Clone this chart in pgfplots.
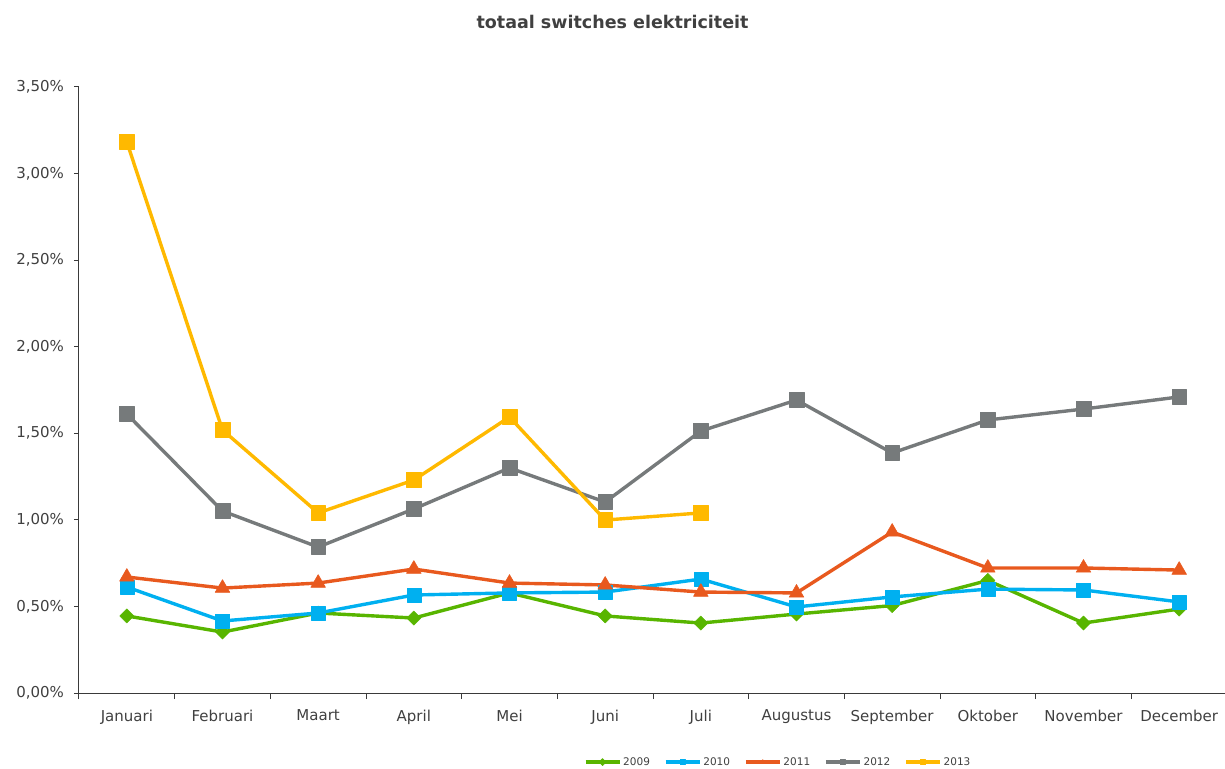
\documentclass[border=0pt]{standalone}
\usepackage{fontspec}
\setmainfont{DejaVu Sans}
\usepackage{pgfplots}
\pgfplotsset{compat=1.18}
\definecolor{c09}{HTML}{58B500}
\definecolor{c10}{HTML}{00B0F0}
\definecolor{c11}{HTML}{E8591E}
\definecolor{c12}{HTML}{767A7B}
\definecolor{c13}{HTML}{FFB900}
\definecolor{txt}{HTML}{404040}
\definecolor{axc}{HTML}{3A3A3A}
\begin{document}
\begin{tikzpicture}
\begin{axis}[name=ax,
  scale only axis, width=1148pt, height=606pt,
  xmin=-0.5, xmax=11.5, ymin=0, ymax=3.5,
  axis x line=bottom, axis y line=left,
  axis line style={-, draw=axc, line width=1pt},
  xtick={0,...,11},
  xticklabels={Januari,Februari,Maart,April,Mei,Juni,Juli,Augustus,September,Oktober,November,December},
  major x tick style={draw=none},
  minor xtick={-0.5,0.5,...,11.5},
  minor x tick style={draw=axc, line width=1pt},
  minor tick length=6pt,
  ytick={0,0.5,...,3.5},
  y tick style={draw=axc, line width=1pt},
  major tick length=5pt,
  tick align=outside,
  yticklabel={\pgfmathprintnumber[fixed,fixed zerofill,precision=2,use comma]{\tick}\%},
  /pgf/number format/assume math mode=true,
  ticklabel style={font=\fontsize{15}{18}\selectfont, text=txt},
  xticklabel style={yshift=-7pt},
  yticklabel style={xshift=-5pt},
  line width=3.4pt,
  every axis plot/.append style={line join=round},
  legend style={at={(0.609,-0.114)}, anchor=center, legend columns=5, draw=none,
    font=\fontsize{10.5}{12}\selectfont, text=txt,
    /tikz/every even column/.append style={column sep=12pt}},
  legend cell align=left,
  legend image code/.code={\draw[mark repeat=2,mark phase=2,#1,mark size=2.5pt] plot coordinates {(0pt,0pt)(17pt,0pt)(34pt,0pt)};},
]
\addplot[c09, mark=square*, mark size=5pt, mark options={rotate=45,fill=c09,draw=c09,line width=0.5pt}] coordinates {
(0,0.445)(1,0.352)(2,0.462)(3,0.433)(4,0.578)(5,0.445)(6,0.404)(7,0.456)(8,0.505)(9,0.650)(10,0.404)(11,0.485)};
\addlegendentry{2009}
\addplot[c10, mark=square*, mark size=7pt, mark options={fill=c10,draw=c10,line width=0.5pt}] coordinates {
(0,0.612)(1,0.416)(2,0.462)(3,0.566)(4,0.578)(5,0.583)(6,0.658)(7,0.497)(8,0.555)(9,0.600)(10,0.595)(11,0.526)};
\addlegendentry{2010}
\addplot[c11, mark=triangle*, mark size=8.5pt, mark options={fill=c11,draw=c11,line width=0.5pt}] coordinates {
(0,0.670)(1,0.606)(2,0.635)(3,0.716)(4,0.635)(5,0.624)(6,0.583)(7,0.578)(8,0.930)(9,0.722)(10,0.722)(11,0.710)};
\addlegendentry{2011}
\addplot[c12, mark=square*, mark size=7.4pt, mark options={fill=c12,draw=c12,line width=0.5pt}] coordinates {
(0,1.611)(1,1.051)(2,0.843)(3,1.063)(4,1.300)(5,1.103)(6,1.513)(7,1.692)(8,1.386)(9,1.577)(10,1.640)(11,1.710)};
\addlegendentry{2012}
\addplot[c13, mark=square*, mark size=7.4pt, mark options={fill=c13,draw=c13,line width=0.5pt}] coordinates {
(0,3.182)(1,1.519)(2,1.040)(3,1.230)(4,1.594)(5,0.999)(6,1.040)};
\addlegendentry{2013}
\end{axis}
\node[font=\bfseries\fontsize{17.5}{20}\selectfont, text=txt] at ([xshift=533.5pt,yshift=65pt]ax.north west) {totaal switches elektriciteit};
\pgfresetboundingbox
\path[use as bounding box] ([xshift=-79pt,yshift=-75pt]ax.south west) rectangle ([xshift=-2pt,yshift=87pt]ax.north east);
\end{tikzpicture}
\end{document}
